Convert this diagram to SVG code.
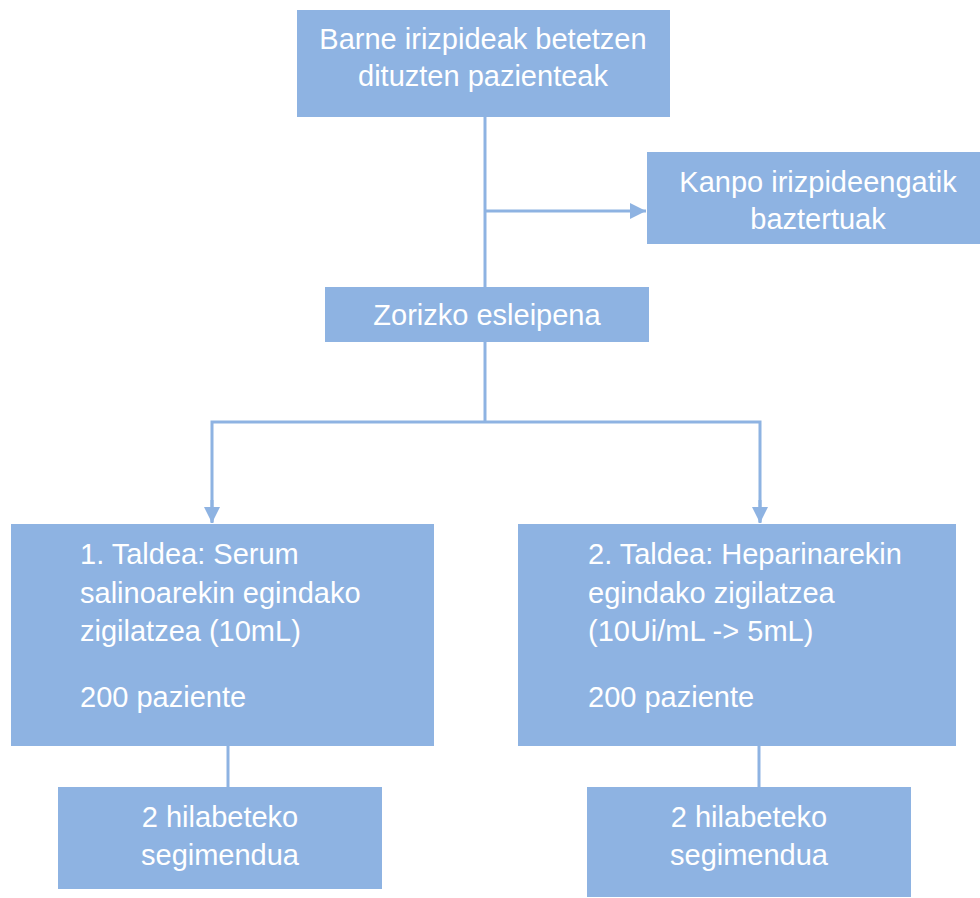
<svg xmlns="http://www.w3.org/2000/svg" width="980" height="898" viewBox="0 0 980 898">
<style>
.box{fill:#8EB3E2;}
.t{font-family:"Liberation Sans",Arial,sans-serif;font-size:29px;fill:#FFFFFF;}
.c{text-anchor:middle;}
.ln{stroke:#8EB3E2;stroke-width:3;fill:none;}
</style>
<defs>
<marker id="ah" viewBox="0 0 10 10" refX="10" refY="5" markerWidth="16" markerHeight="16" markerUnits="userSpaceOnUse" orient="auto">
<path d="M0,0 L10,5 L0,10 Z" fill="#8EB3E2"/>
</marker>
</defs>
<g id="connectors">
<line class="ln" x1="485" y1="117" x2="485" y2="287"/>
<line class="ln" x1="485" y1="211" x2="646" y2="211" marker-end="url(#ah)"/>
<line class="ln" x1="485" y1="342" x2="485" y2="422"/>
<polyline class="ln" points="212,522 212,422 760,422 760,522"/>
<line class="ln" x1="212" y1="500" x2="212" y2="523" marker-end="url(#ah)"/>
<line class="ln" x1="760" y1="500" x2="760" y2="523" marker-end="url(#ah)"/>
<line class="ln" x1="228" y1="746" x2="228" y2="788"/>
<line class="ln" x1="759" y1="746" x2="759" y2="788"/>
</g>
<g id="n-barne">
<rect class="box" x="297" y="10" width="373" height="107"/>
<text class="t c" x="483" y="49">Barne irizpideak betetzen</text>
<text class="t c" x="483" y="86">dituzten pazienteak</text>
</g>
<g id="n-kanpo">
<rect class="box" x="647" y="152" width="343" height="92"/>
<text class="t c" x="818" y="192">Kanpo irizpideengatik</text>
<text class="t c" x="818" y="229">baztertuak</text>
</g>
<g id="n-zorizko">
<rect class="box" x="325" y="287" width="324" height="55"/>
<text class="t c" x="487" y="325">Zorizko esleipena</text>
</g>
<g id="n-taldea1">
<rect class="box" x="11" y="524" width="423" height="222"/>
<text class="t" x="80" y="564">1. Taldea: Serum</text>
<text class="t" x="80" y="603">salinoarekin egindako</text>
<text class="t" x="80" y="641">zigilatzea (10mL)</text>
<text class="t" x="80" y="707">200 paziente</text>
</g>
<g id="n-taldea2">
<rect class="box" x="518" y="524" width="438" height="222"/>
<text class="t" x="588" y="564">2. Taldea: Heparinarekin</text>
<text class="t" x="588" y="603">egindako zigilatzea</text>
<text class="t" x="588" y="641">(10Ui/mL -&gt; 5mL)</text>
<text class="t" x="588" y="707">200 paziente</text>
</g>
<g id="n-seg1">
<rect class="box" x="58" y="787" width="324" height="102"/>
<text class="t c" x="220" y="827">2 hilabeteko</text>
<text class="t c" x="220" y="865">segimendua</text>
</g>
<g id="n-seg2">
<rect class="box" x="587" y="787" width="324" height="110"/>
<text class="t c" x="749" y="827">2 hilabeteko</text>
<text class="t c" x="749" y="865">segimendua</text>
</g>
</svg>
